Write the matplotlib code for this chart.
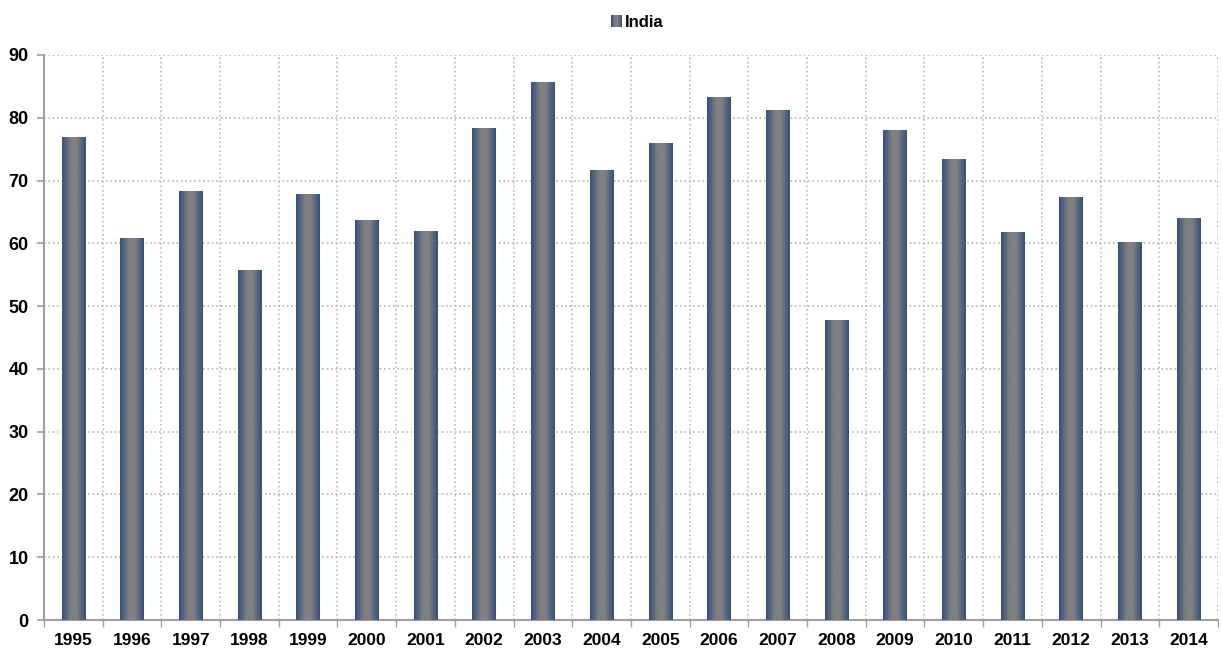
import numpy as np
import matplotlib.pyplot as plt
import matplotlib.colors as mcolors
from matplotlib.legend_handler import HandlerBase
from matplotlib.patches import Rectangle

plt.rcParams['font.family'] = ['Liberation Sans', 'DejaVu Sans']

years = ['1995', '1996', '1997', '1998', '1999', '2000', '2001', '2002', '2003', '2004',
         '2005', '2006', '2007', '2008', '2009', '2010', '2011', '2012', '2013', '2014']
india = [76.9, 60.8, 68.3, 55.7, 67.8, 63.7, 61.9, 78.3, 85.7, 71.7,
         76.0, 83.3, 81.2, 47.8, 78.0, 73.4, 61.8, 67.4, 60.2, 64.0]
yticks = [0, 10, 20, 30, 40, 50, 60, 70, 80, 90]

EDGE = '#34527c'
MID = '#808080'
grad_cmap = mcolors.LinearSegmentedColormap.from_list(
    'bar', [(0.0, EDGE), (0.38, MID), (0.62, MID), (1.0, EDGE)])
grad = np.linspace(0, 1, 64).reshape(1, -1)


class GradientHandler(HandlerBase):
    # legend key drawn as thin vertical strips
    def create_artists(self, legend, orig, xd, yd, w, h, fontsize, trans):
        n = 12
        arts = []
        for k in range(n):
            c = grad_cmap((k + 0.5) / n)
            arts.append(Rectangle((xd + w * k / n, yd), w / n + 0.1, h,
                                  facecolor=c, edgecolor='none', transform=trans))
        return arts


fig = plt.figure(figsize=(12.21, 6.51), dpi=100)
ax = fig.add_axes([0.036, 0.0476, 0.9615, 0.868])

x = np.arange(len(years))
width = 0.40
bars = ax.bar(x, india, width=width, color='none', edgecolor='none', label='India', zorder=3)
for b in bars:
    x0, y0 = b.get_x(), b.get_y()
    im = ax.imshow(grad, cmap=grad_cmap, aspect='auto', interpolation='bilinear',
                   extent=(x0, x0 + b.get_width(), y0, y0 + b.get_height()), zorder=3)
    im.set_clip_path(b)

ax.set_xlim(-0.5, len(years) - 0.5)
ax.set_ylim(0, 90)
ax.set_yticks(yticks)
ax.set_yticklabels([str(v) for v in yticks], fontsize=13, fontweight='bold')
ax.set_xticks(x)
ax.set_xticklabels(years, fontsize=12.5, fontweight='bold')
ax.tick_params(axis='x', length=0, pad=9)
ax.tick_params(axis='y', length=5, width=1.2, color='#a0a0a0', pad=6)

# category boundaries: gridlines plus small ticks below the axis
ax.set_xticks(np.arange(len(years) + 1) - 0.5, minor=True)
ax.tick_params(axis='x', which='minor', length=5, width=1, color='#a0a0a0')
ax.grid(True, which='minor', axis='x', color='#bdbdbd', linestyle=':', linewidth=1.2, zorder=0)
ax.grid(True, which='major', axis='y', color='#b5b5b5', linestyle=':', linewidth=1.2, zorder=0)

for s in ['top', 'right']:
    ax.spines[s].set_visible(False)
for s in ['left', 'bottom']:
    ax.spines[s].set_color('#a0a0a0')
    ax.spines[s].set_linewidth(1.5)

leg = fig.legend(handles=[bars], labels=['India'], loc='upper center',
                 bbox_to_anchor=(0.522, 1.0), frameon=False, handler_map={type(bars): GradientHandler()},
                 prop={'size': 12, 'weight': 'bold'}, handlelength=0.6, handleheight=0.7,
                 handletextpad=0.2)

fig.savefig('out.png', dpi=100)
